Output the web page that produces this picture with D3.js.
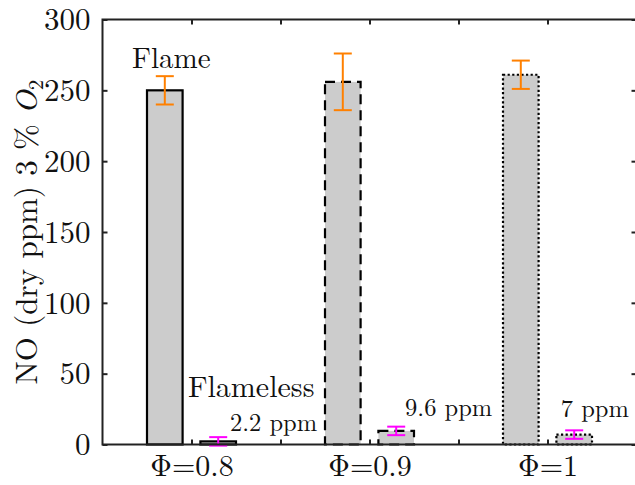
<!DOCTYPE html>
<html>
<head>
<meta charset="utf-8">
<script src="https://cdn.jsdelivr.net/npm/d3@7/dist/d3.min.js"></script>
<style>
  html, body { margin: 0; padding: 0; background: #ffffff; }
  svg { display: block; }
</style>
</head>
<body>
<svg id="chart" width="635" height="485"></svg>
<script>
// NO emissions (dry ppm, corrected to 3 % O2) for three equivalence ratios
const categories = ["Φ=0.8", "Φ=0.9", "Φ=1"];
const flameValues = [250, 256, 261];
const flameErrors = [10, 20, 10];
const flamelessValues = [2.2, 9.6, 7];
const flamelessErrors = [3, 3, 3];
const flamelessLabels = ["2.2 ppm", "9.6 ppm", "7 ppm"];
const yTickValues = [0, 50, 100, 150, 200, 250, 300];
const xTickValues = [1, 1.5, 2, 2.5, 3];

const FONT = '"Latin Modern Roman", "Liberation Serif", serif';
const outlineDash = [null, "10,6", "2.2,2.4"];   // solid / dashed / dotted per group
const barFill = "#cccccc";
const flameErrColor = "#ff8000";
const flamelessErrColor = "#ff00ff";

const svg = d3.select("#chart");
const plot = { left: 102.5, right: 636.5, top: 19.5, bottom: 444.5 };

const x = d3.scaleLinear().domain([0.5, 3.5]).range([plot.left, plot.right]);
const y = d3.scaleLinear().domain([0, 300]).range([plot.bottom, plot.top]);

const barOffset = 0.15, barWidth = 0.2;

function setFont(sel, size) {
  sel.attr("font-family", FONT).attr("font-size", size)
     .style("font-family", FONT).style("font-size", size + "px").attr("fill", "#111");
  return sel;
}

const bars = [];
categories.forEach((c, i) => {
  bars.push({ x: i + 1 - barOffset, v: flameValues[i], e: flameErrors[i], col: flameErrColor, dash: outlineDash[i] });
  bars.push({ x: i + 1 + barOffset, v: flamelessValues[i], e: flamelessErrors[i], col: flamelessErrColor, dash: outlineDash[i] });
});

// bars
svg.append("g").selectAll("rect").data(bars).join("rect")
  .attr("x", d => x(d.x - barWidth / 2))
  .attr("y", d => y(d.v))
  .attr("width", d => x(d.x + barWidth / 2) - x(d.x - barWidth / 2))
  .attr("height", d => y(0) - y(d.v))
  .attr("fill", barFill)
  .attr("stroke", "#000")
  .attr("stroke-width", 2.2)
  .attr("stroke-dasharray", d => d.dash);

// error bars
const capHalf = 9;
const eg = svg.append("g").selectAll("g").data(bars).join("g")
  .attr("stroke", d => d.col).attr("stroke-width", 2);
eg.append("line")
  .attr("x1", d => x(d.x)).attr("x2", d => x(d.x))
  .attr("y1", d => y(d.v - d.e)).attr("y2", d => y(d.v + d.e));
eg.append("line")
  .attr("x1", d => x(d.x) - capHalf).attr("x2", d => x(d.x) + capHalf)
  .attr("y1", d => y(d.v + d.e)).attr("y2", d => y(d.v + d.e));
eg.append("line")
  .attr("x1", d => x(d.x) - capHalf).attr("x2", d => x(d.x) + capHalf)
  .attr("y1", d => y(d.v - d.e)).attr("y2", d => y(d.v - d.e));

// frame
svg.append("rect")
  .attr("x", plot.left).attr("y", plot.top)
  .attr("width", plot.right - plot.left).attr("height", plot.bottom - plot.top)
  .attr("fill", "none").attr("stroke", "#222").attr("stroke-width", 2);

// axes with inward ticks
const tickLen = 5;
function styleAxis(g) {
  g.attr("font-family", FONT);
  g.select(".domain").remove();
  g.selectAll("line").attr("stroke", "#222").attr("stroke-width", 2);
}
const yAxisL = d3.axisLeft(y).tickValues(yTickValues).tickSizeInner(-tickLen).tickSizeOuter(0).tickPadding(12);
const gy = svg.append("g").attr("transform", `translate(${plot.left},0)`).call(yAxisL).call(styleAxis);
setFont(gy.selectAll("text"), 31).attr("dy", "0.33em");

const yAxisR = d3.axisRight(y).tickValues(yTickValues).tickSizeInner(-tickLen).tickSizeOuter(0).tickFormat("");
svg.append("g").attr("transform", `translate(${plot.right},0)`).call(yAxisR).call(styleAxis);

const xLabelMap = new Map(categories.map((c, i) => [i + 1, c]));
const xAxisB = d3.axisBottom(x).tickValues(xTickValues).tickSizeInner(-tickLen).tickSizeOuter(0)
  .tickFormat(v => xLabelMap.get(v) || "").tickPadding(10);
const gx = svg.append("g").attr("transform", `translate(0,${plot.bottom})`).call(xAxisB).call(styleAxis);
setFont(gx.selectAll("text"), 30).attr("dy", "0.72em");

const xAxisT = d3.axisTop(x).tickValues(xTickValues).tickSizeInner(-tickLen).tickSizeOuter(0).tickFormat("");
svg.append("g").attr("transform", `translate(0,${plot.top})`).call(xAxisT).call(styleAxis);

// y-axis title
const yl = setFont(svg.append("text"), 31)
  .attr("transform", `translate(37,${(plot.top + plot.bottom) / 2}) rotate(-90)`)
  .attr("text-anchor", "middle");
yl.append("tspan").text("NO (dry ppm) 3 % ");
yl.append("tspan").style("font-style", "italic").text("O");
yl.append("tspan").attr("dy", 6).style("font-size", "21px").text("2");

// annotations
setFont(svg.append("text"), 29).attr("x", x(0.666)).attr("y", y(266)).text("Flame");
setFont(svg.append("text"), 30).attr("x", x(0.98)).attr("y", y(33.8)).text("Flameless");

const labelPos = [[1.216, 9.4], [2.2, 20.4], [3.075, 19.7]];
setFont(svg.append("g").selectAll("text").data(flamelessLabels).join("text"), 24.5)
  .attr("x", (d, i) => x(labelPos[i][0]))
  .attr("y", (d, i) => y(labelPos[i][1]))
  .text(d => d);
</script>
</body>
</html>
